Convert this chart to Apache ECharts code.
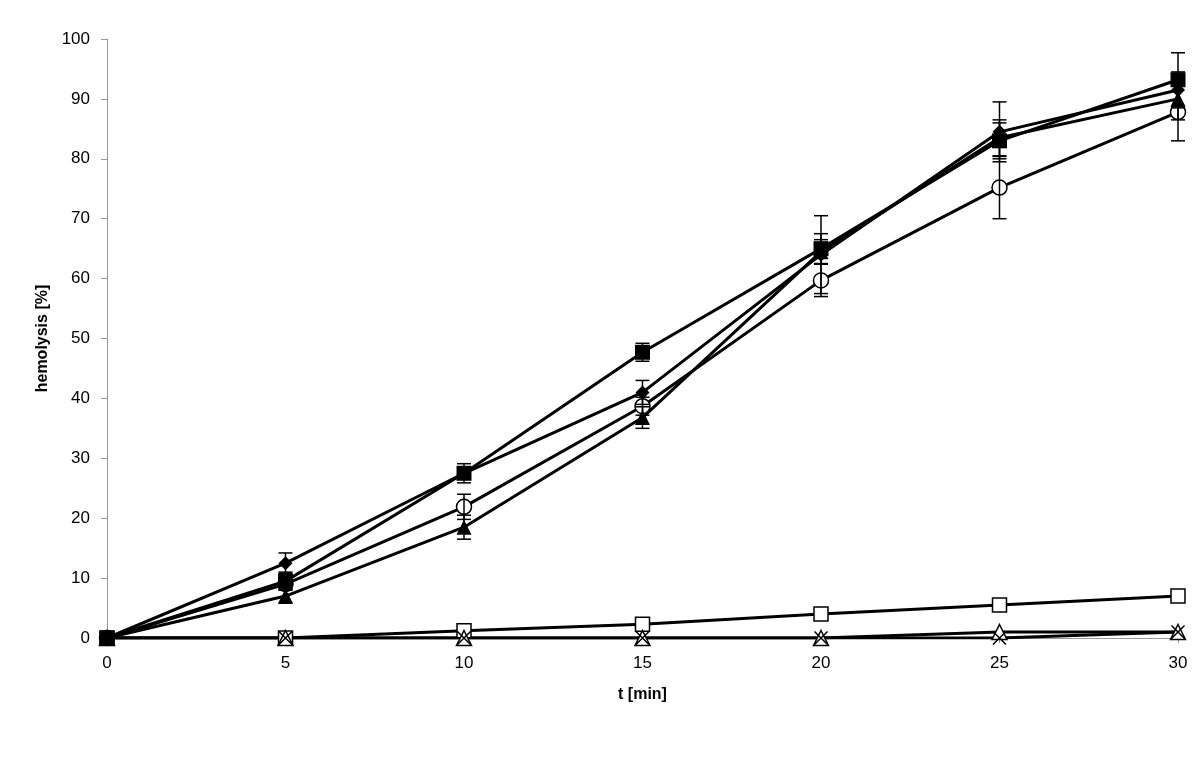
<!DOCTYPE html>
<html>
<head>
<meta charset="utf-8">
<script src="https://cdn.jsdelivr.net/npm/echarts@6/dist/echarts.min.js"></script>
<style>
html, body { margin: 0; padding: 0; background: #fff; }
#chart { width: 1198px; height: 771px; }
</style>
</head>
<body>
<div id="chart"></div>
<script>
var times = [0, 5, 10, 15, 20, 25, 30];

var diamondVals = [0, 12.5, 27.5, 41, 64, 84.5, 91.5];
var diamondErr  = [0, 1.7, 1, 2, 6.5, 5, 3];
var squareVals  = [0, 9.5, 27.5, 47.7, 65, 83, 93.2];
var squareErr   = [0, 1.5, 1.6, 1.5, 2.5, 3, 4.5];
var triVals     = [0, 7, 18.5, 36.8, 64.5, 83.5, 90];
var triErr      = [0, 1.2, 2, 1.8, 2, 3, 3.5];
var circleVals  = [0, 9, 21.9, 38.7, 59.7, 75.2, 87.8];
var circleErr   = [0, 1, 2.1, 1.5, 2.7, 5.2, 4.8];
var openSqVals  = [0, 0, 1.2, 2.3, 4, 5.5, 7];
var openTriVals = [0, 0, 0, 0, 0, 1, 1];
var crossVals   = [0, 0, 0, 0, 0, 0, 1];

(function(){
  var myChart = echarts.init(document.getElementById('chart'));

  function pairs(vals) {
    return times.map(function (t, i) { return [t, vals[i]]; });
  }
  function errData(vals, errs) {
    var out = [];
    times.forEach(function (t, i) {
      if (errs[i] > 0) out.push([t, vals[i] - errs[i], vals[i] + errs[i]]);
    });
    return out;
  }
  function errSeries(vals, errs) {
    return {
      type: 'custom',
      z: 5,
      silent: true,
      data: errData(vals, errs),
      renderItem: function (params, api) {
        var lo = api.coord([api.value(0), api.value(1)]);
        var hi = api.coord([api.value(0), api.value(2)]);
        var w = 7;
        var st = { stroke: '#000', lineWidth: 1.5 };
        return {
          type: 'group',
          children: [
            { type: 'line', shape: { x1: lo[0], y1: lo[1], x2: hi[0], y2: hi[1] }, style: st },
            { type: 'line', shape: { x1: lo[0] - w, y1: lo[1], x2: lo[0] + w, y2: lo[1] }, style: st },
            { type: 'line', shape: { x1: hi[0] - w, y1: hi[1], x2: hi[0] + w, y2: hi[1] }, style: st }
          ]
        };
      }
    };
  }
  function lineSeries(name, vals, symbol, size, filled) {
    return {
      name: name,
      type: 'line',
      data: pairs(vals),
      symbol: symbol,
      symbolSize: size,
      showAllSymbol: true,
      z: 3,
      lineStyle: { color: '#000', width: 3 },
      itemStyle: {
        color: filled ? '#000' : '#fff',
        borderColor: '#000',
        borderWidth: filled ? 0 : 1.5
      }
    };
  }

  var option = {
    animation: false,
    grid: { left: 107, right: 20, top: 39, bottom: 133 },
    xAxis: {
      type: 'value',
      min: 0, max: 30, interval: 5,
      name: 't [min]',
      nameLocation: 'middle',
      nameGap: 49,
      nameTextStyle: { fontFamily: 'Liberation Sans', fontWeight: 'bold', fontSize: 16, color: '#000' },
      axisLine: { lineStyle: { color: '#999' } },
      axisTick: { show: true, length: 5, lineStyle: { color: '#999' } },
      axisLabel: { fontFamily: 'Liberation Sans', fontSize: 17, color: '#000', margin: 17 },
      splitLine: { show: false }
    },
    yAxis: {
      type: 'value',
      min: 0, max: 100, interval: 10,
      name: 'hemolysis [%]',
      nameLocation: 'middle',
      nameGap: 56,
      nameRotate: 90,
      nameTextStyle: { fontFamily: 'Liberation Sans', fontWeight: 'bold', fontSize: 16, color: '#000' },
      axisLine: { show: true, lineStyle: { color: '#999' } },
      axisTick: { show: true, length: 6, lineStyle: { color: '#999' } },
      axisLabel: { fontFamily: 'Liberation Sans', fontSize: 17, color: '#000', margin: 17 },
      splitLine: { show: false }
    },
    series: [
      lineSeries('open square', openSqVals, 'rect', 14, false),
      lineSeries('open triangle', openTriVals, 'triangle', 15, false),
      lineSeries('cross', crossVals, 'path://M0,0L10,10M10,0L0,10', 13, false),
      lineSeries('circle', circleVals, 'circle', 15, false),
      lineSeries('triangle', triVals, 'triangle', 15, true),
      lineSeries('square', squareVals, 'rect', 15, true),
      lineSeries('diamond', diamondVals, 'diamond', 14, true),
      errSeries(diamondVals, diamondErr),
      errSeries(squareVals, squareErr),
      errSeries(triVals, triErr),
      errSeries(circleVals, circleErr)
    ]
  };

  myChart.setOption(option);
})();
</script>
</body>
</html>
